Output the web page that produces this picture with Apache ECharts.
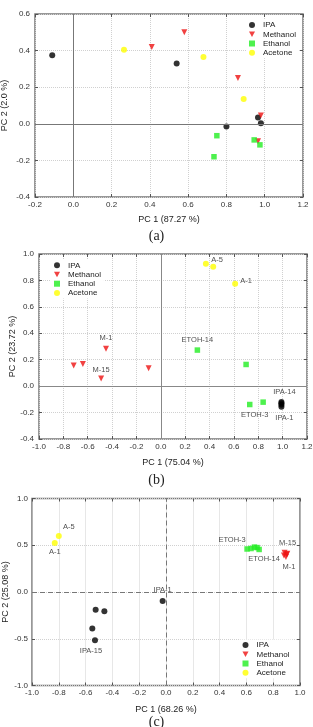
<!DOCTYPE html>
<html>
<head>
<meta charset="utf-8">
<script src="https://cdn.jsdelivr.net/npm/echarts@6/dist/echarts.min.js"></script>
<style>
  html, body { margin: 0; padding: 0; background: #fff; }
  #chart { width: 313px; height: 727px; }
</style>
</head>
<body>
<div id="chart"></div>
<script>
// (a) PC1 vs PC2 scores
const ipaA = [[-0.11, 0.375], [0.54, 0.33], [0.80, -0.015], [0.965, 0.035], [0.98, 0.003]]
const methA = [[0.41, 0.42], [0.58, 0.50], [0.86, 0.25], [0.98, 0.045], [0.965, -0.095]]
const ethA = [[0.75, -0.065], [0.945, -0.088], [0.975, -0.115], [0.735, -0.18]]
const aceA = [[0.265, 0.405], [0.68, 0.365], [0.89, 0.135]]

// (b) third element = point label
const ipaB = [[0.99, -0.12, 'IPA-14'], [0.99, -0.13], [0.99, -0.14], [0.99, -0.155, 'IPA-1']]
const methB = [[-0.715, 0.157], [-0.64, 0.168], [-0.45, 0.283, 'M-1'], [-0.49, 0.058, 'M-15'], [-0.10, 0.136]]
const ethB = [[0.30, 0.273, 'ETOH-14'], [0.70, 0.164], [0.73, -0.139, 'ETOH-3'], [0.84, -0.121]]
const aceB = [[0.37, 0.926], [0.43, 0.904, 'A-5'], [0.61, 0.775, 'A-1']]

// (c)
const ipaC = [[-0.025, -0.095, 'IPA-1'], [-0.525, -0.19], [-0.46, -0.205], [-0.55, -0.39], [-0.53, -0.515, 'IPA-15']]
const methC = [[0.885, 0.42, 'M-15'], [0.90, 0.40], [0.88, 0.39], [0.895, 0.375, 'M-1'], [0.905, 0.41]]
const ethC = [[0.605, 0.46, 'ETOH-3'], [0.635, 0.465], [0.66, 0.48], [0.68, 0.475], [0.695, 0.455, 'ETOH-14']]
const aceC = [[-0.83, 0.525, 'A-1'], [-0.80, 0.60, 'A-5']]

const groups = ['IPA', 'Methanol', 'Ethanol', 'Acetone']
const xNames = ['PC 1 (87.27 %)', 'PC 1 (75.04 %)', 'PC 1 (68.26 %)']
const yNames = ['PC 2 (2.0 %)', 'PC 2 (23.72 %)', 'PC 2 (25.08 %)']
const panelTags = ['(a)', '(b)', '(c)']

const colors = { IPA: '#000000', Methanol: '#ee1111', Ethanol: '#22ee22', Acetone: '#ffff00' }
const symbols = { IPA: 'circle', Methanol: 'triangle', Ethanol: 'rect', Acetone: 'circle' }
const downTri = 'path://M0,0 L10,0 L5,9 Z'

// label placement per panel
const posB = {
  'IPA-14': { position: 'top', distance: 3, offset: [3, 0] },
  'IPA-1': { position: 'bottom', distance: 4, offset: [3, 0] },
  'M-1': { position: 'top', distance: 4 },
  'M-15': { position: 'top', distance: 2 },
  'ETOH-14': { position: 'top', distance: 3 },
  'ETOH-3': { position: 'bottom', distance: 4, offset: [5, 0] },
  'A-5': { position: 'top', distance: 0, offset: [4, 0] },
  'A-1': { position: 'right', distance: 2, offset: [0, -3] }
}
const posC = {
  'IPA-1': { position: 'top', distance: 4 },
  'IPA-15': { position: 'bottom', distance: 4, offset: [-4, 0] },
  'M-15': { position: 'top', distance: 3, offset: [3, 0] },
  'M-1': { position: 'bottom', distance: 3, offset: [3, 0] },
  'ETOH-3': { position: 'top', distance: 2, offset: [-15, 0] },
  'ETOH-14': { position: 'bottom', distance: 3, offset: [5, 0] },
  'A-5': { position: 'top', distance: 2, offset: [10, 0] },
  'A-1': { position: 'bottom', distance: 2 }
}

const grids = [
  { left: 35, top: 14, width: 268, height: 183 },
  { left: 39, top: 254, width: 268, height: 185 },
  { left: 32, top: 498.5, width: 268, height: 187 }
]
const xRanges = [[-0.2, 1.2, 0.2], [-1, 1.2, 0.2], [-1, 1, 0.2]]
const yRanges = [[-0.4, 0.6, 0.2], [-0.4, 1.0, 0.2], [-1, 1, 0.5]]
const xGaps = [18.5, 19.5, 19.5]
const yGaps = [25.5, 21.5, 21.5]
const zeroLine = [
  { color: '#777', width: 1, type: 'solid' },
  { color: '#888', width: 1, type: 'solid' },
  { color: '#777', width: 1, type: [5, 3] }
]

const fmt = v => (Math.abs(v) < 1e-9 ? '0.0' : v.toFixed(1))
const tickFont = { fontFamily: 'Liberation Sans', fontSize: 8, color: '#333' }
const nameFont = { fontFamily: 'Liberation Sans', fontSize: 9, color: '#222' }
const tickStyle = { show: true, inside: true, length: 3, lineStyle: { color: '#555' } }

const xAxes = []
const yAxes = []
grids.forEach((g, i) => {
  const [x0, x1, xi] = xRanges[i]
  const [y0, y1, yi] = yRanges[i]
  xAxes.push({
    type: 'value', gridIndex: i, min: x0, max: x1, interval: xi,
    name: xNames[i], nameLocation: 'middle', nameGap: xGaps[i], nameTextStyle: nameFont,
    nameMoveOverlap: false,
    axisLine: { show: false, onZero: false },
    axisTick: tickStyle,
    axisLabel: { ...tickFont, margin: i === 2 ? 3 : 4, formatter: fmt },
    splitLine: { show: true, lineStyle: { color: '#d0d0d0', type: 'dotted' } }
  })
  xAxes.push({
    type: 'value', gridIndex: i, min: x0, max: x1, interval: xi, position: 'top',
    axisLine: { show: false, onZero: false }, axisTick: tickStyle,
    axisLabel: { show: false }, splitLine: { show: false }
  })
  yAxes.push({
    type: 'value', gridIndex: i, min: y0, max: y1, interval: yi,
    name: yNames[i], nameLocation: 'middle', nameGap: yGaps[i], nameRotate: 90, nameTextStyle: nameFont,
    nameMoveOverlap: false,
    axisLine: { show: false, onZero: false },
    axisTick: tickStyle,
    axisLabel: { ...tickFont, margin: i === 2 ? 4 : 5, formatter: fmt },
    splitLine: { show: true, lineStyle: { color: '#d0d0d0', type: 'dotted' } }
  })
  yAxes.push({
    type: 'value', gridIndex: i, min: y0, max: y1, interval: yi, position: 'right',
    axisLine: { show: false, onZero: false }, axisTick: tickStyle,
    axisLabel: { show: false }, splitLine: { show: false }
  })
})

const panelData = [
  [ipaA, methA, ethA, aceA],
  [ipaB, methB, ethB, aceB],
  [ipaC, methC, ethC, aceC]
]
const panelPos = [{}, posB, posC]

const series = []
panelData.forEach((sets, i) => {
  sets.forEach((pts, k) => {
    const name = groups[k]
    const items = pts.map(p => {
      const item = { name: p[2] || '', value: [p[0], p[1]] }
      if (p[2]) item.label = { show: true, ...panelPos[i][p[2]] }
      return item
    })
    const s = {
      name, type: 'scatter', xAxisIndex: i * 2, yAxisIndex: i * 2,
      data: items,
      symbol: name === 'Methanol' ? downTri : symbols[name],
      symbolSize: name === 'Ethanol' ? 5.5 : 6,
      itemStyle: { color: colors[name] },
      label: { show: false, formatter: '{b}', fontFamily: 'Liberation Sans', fontSize: 7.5, color: '#222' },
      emphasis: { disabled: true }
    }
    if (k === 0) {
      s.markLine = {
        silent: true, symbol: 'none', label: { show: false },
        lineStyle: zeroLine[i],
        data: [{ xAxis: 0 }, { yAxis: 0 }]
      }
    }
    series.push(s)
  })
})

const legendBase = {
  orient: 'vertical', padding: [1, 3], itemGap: 0,
  itemWidth: 6, itemHeight: 6, backgroundColor: '#fff',
  data: groups.map(n => ({ name: n, icon: n === 'Methanol' ? downTri : (n === 'Ethanol' ? 'rect' : 'circle') })),
  textStyle: { fontFamily: 'Liberation Sans', fontSize: 8, color: '#222', lineHeight: 9.2, padding: [0, 0, 0, 3] }
}

const chart = echarts.init(document.getElementById('chart'), null, { renderer: 'canvas' })
chart.setOption({
  animation: false,
  grid: grids.map(g => ({
    ...g, show: true, borderColor: '#777', borderWidth: 1.5, backgroundColor: 'transparent',
    containLabel: false, outerBoundsMode: 'none'
  })),
  xAxis: xAxes,
  yAxis: yAxes,
  legend: [
    { ...legendBase, left: 246, top: 19.5 },
    { ...legendBase, left: 51, top: 259.7 },
    { ...legendBase, left: 239.5, top: 639.5 }
  ],
  graphic: panelTags.map((t, i) => ({
    type: 'text', left: 'center', top: [229, 473, 715][i],
    style: { text: t, font: '14px "Liberation Serif"', fill: '#222' }
  })),
  series
})
</script>
</body>
</html>
